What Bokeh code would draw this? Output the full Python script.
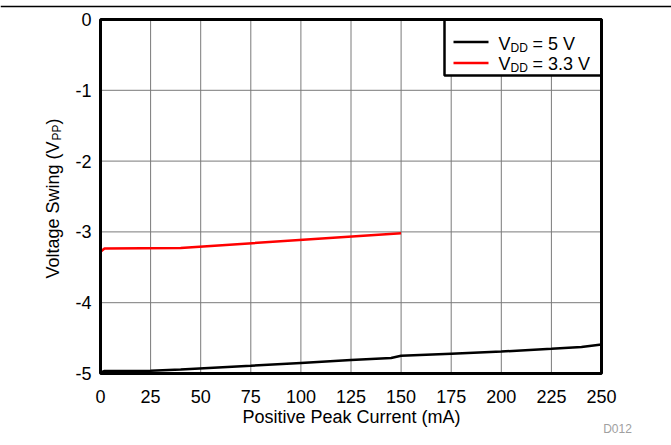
import math
from bokeh.plotting import figure
from bokeh.models import Label, Range1d, Span
from bokeh.core.properties import value
from bokeh.embed import file_html
from bokeh.resources import INLINE

# ---- data ----
vdd5_x = [0.5, 2, 25, 40, 75, 100, 125, 145, 150, 175, 200, 225, 240, 250]
vdd5_y = [-4.98, -4.965, -4.96, -4.945, -4.89, -4.85, -4.81, -4.78, -4.75, -4.72, -4.69, -4.65, -4.625, -4.59]
vdd33_x = [0, 2, 40, 150]
vdd33_y = [-3.28, -3.235, -3.226, -3.02]
x_ticks = [0, 25, 50, 75, 100, 125, 150, 175, 200, 225, 250]
y_ticks = [-5, -4, -3, -2, -1, 0]
x_tick_labels = [str(t) for t in x_ticks]
y_tick_labels = [str(t) for t in y_ticks]

FONT = "Liberation Sans"

# geometry: the plotting frame covers the whole canvas; the data area sits inside it
W, H = 671, 445
FX0, FY0, FW, FH = 100, 19, 501, 354
X0, X1 = x_ticks[0], x_ticks[-1]
Y0, Y1 = y_ticks[0], y_ticks[-1]


def sx(px):
    return X0 + (px - FX0) / FW * (X1 - X0)


def sy(py):
    return Y1 - (py - FY0) / FH * (Y1 - Y0)


p = figure(width=W, height=H, output_backend="svg", toolbar_location=None,
           x_range=Range1d(sx(0), sx(W)), y_range=Range1d(sy(H), sy(0)),
           x_axis_location=None, y_axis_location=None, min_border=0)
p.grid.visible = False
p.outline_line_color = None
p.background_fill_color = "white"
p.border_fill_color = "white"

GRID = "#7a7a7a"
# grid lines at the tick values
p.segment(x0=x_ticks, y0=[Y0] * len(x_ticks), x1=x_ticks, y1=[Y1] * len(x_ticks),
          line_color=GRID, line_width=1)
p.segment(x0=[X0] * len(y_ticks), y0=y_ticks, x1=[X1] * len(y_ticks), y1=y_ticks,
          line_color=GRID, line_width=1)

# legend box (covers the grid)
p.quad(left=[sx(444)], right=[X1], top=[Y1], bottom=[sy(75)],
       fill_color="white", line_color=None)

# data
p.line(vdd5_x, vdd5_y, line_color="black", line_width=2.5)
p.line(vdd33_x, vdd33_y, line_color="#ff0000", line_width=2.5)

# plot frame and legend border
p.quad(left=[X0], right=[X1], top=[Y1], bottom=[Y0], fill_color=None,
       line_color="black", line_width=3)
p.quad(left=[sx(444)], right=[X1], top=[Y1], bottom=[sy(75)],
       fill_color=None, line_color="black", line_width=2.5)

# legend lines
p.segment(x0=[sx(453), sx(453)], y0=[sy(41.5), sy(62.5)],
          x1=[sx(488), sx(488)], y1=[sy(41.5), sy(62.5)],
          line_color=["black", "#ff0000"], line_width=2.5)

# tick labels
p.text(x=x_ticks, y=[Y0] * len(x_ticks), text=x_tick_labels, y_offset=23,
       text_align="center", text_baseline="middle", text_font=value(FONT),
       text_font_size="18px", text_color="black")
p.text(x=[X0] * len(y_ticks), y=y_ticks, text=y_tick_labels, x_offset=-9,
       text_align="right", text_baseline="middle", text_font=value(FONT),
       text_font_size="18px", text_color="black")

# top separator rule
p.add_layout(Span(location=sy(6), dimension="width", line_color="black", line_width=1.5))


def lab(px, py, text, size, align="left", baseline="alphabetic", angle=0.0, color="black"):
    p.add_layout(Label(x=sx(px), y=sy(py), text=text, text_font=FONT, text_font_size=size,
                       text_align=align, text_baseline=baseline, angle=angle,
                       text_color=color))


# legend texts
for base, rest in ((43, "= 5 V"), (63.5, "= 3.3 V")):
    lab(498, base, "V", "18px")
    lab(510, base + 4, "DD", "12px")
    lab(532, base, rest, "18px")

# x axis label
lab(351, 416, "Positive Peak Current (mA)", "18px", align="center")

# y axis label (rotated, composed with subscript)
lab(52, 278, "Voltage Swing (V", "18px", baseline="middle", angle=math.pi / 2)
lab(56, 140, "PP", "12px", baseline="middle", angle=math.pi / 2)
lab(52, 124, ")", "18px", baseline="middle", angle=math.pi / 2)

# figure id
lab(617, 428, "D012", "12px", align="center", baseline="middle", color="#a0a0a0")

open("out.html", "w").write(file_html(p, INLINE))
